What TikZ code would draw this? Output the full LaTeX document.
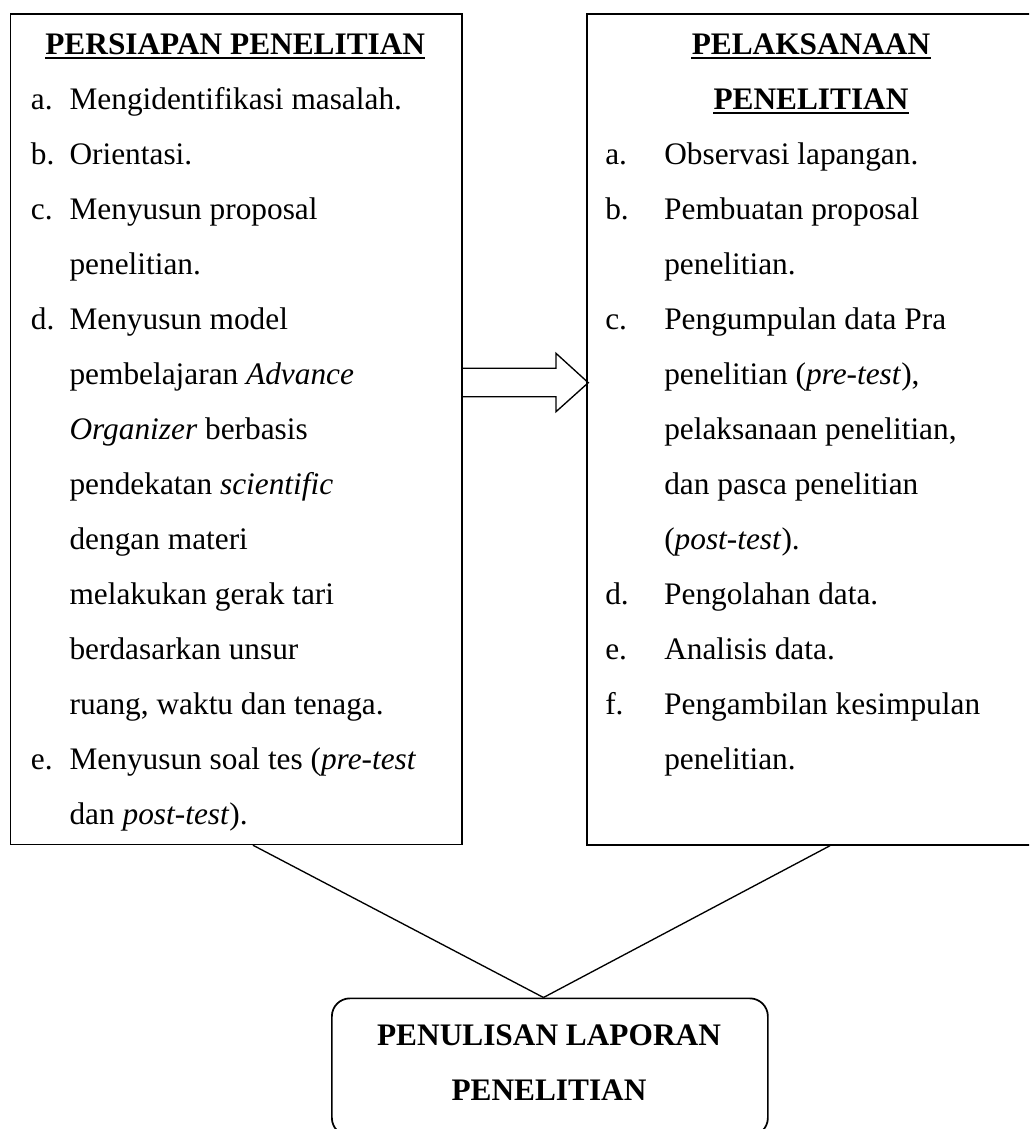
\documentclass[tikz,border=0pt]{standalone}
\usepackage{fontspec}
\setmainfont{Liberation Serif}
\usetikzlibrary{calc}
\newcommand\myfont{\fontsize{23.5}{28}\selectfont}
\newcommand\itemlabL[1]{\makebox[28.95pt][l]{#1}}
\newcommand\itemlabR[1]{\makebox[44.25pt][l]{#1}}
\tikzset{
  boxstyle/.style={draw, line width=1.3pt, inner sep=0pt, anchor=north west},
  ln/.style={anchor=base west, inner sep=0pt, font=\myfont},
  hd/.style={anchor=base, inner sep=0pt, font=\myfont\bfseries},
  conn/.style={line width=1pt},
  ul/.style={line width=1.6pt}
}
\begin{document}
\begin{tikzpicture}[x=0.75pt, y=-0.75pt]
\clip (0,0) rectangle (1029,1129);
\fill[white] (0,0) rectangle (1029,1129);
% boxes
\node[boxstyle, minimum width=338.6pt, minimum height=622.65pt] (L) at (9.5,13.3) {};
\node[boxstyle, minimum width=337.5pt, minimum height=623pt] (R) at (586,13.3) {};
\node[boxstyle, rounded corners=13.5pt, minimum width=327pt, minimum height=103.1pt] (B) at (331,997.5) {};
% left header
\node[hd] (lh) at (235.25,54.5) {PERSIAPAN PENELITIAN};
\draw[ul] ($(lh.base west)+(0,3.8)$) -- ($(lh.base east)+(0,3.8)$);
% left lines
\node[ln] (l1) at (30.7,109.5) {\itemlabL{a.}Mengidentifikasi masalah.};
\node[ln] (l2) at (30.7,164.5) {\itemlabL{b.}Orientasi.};
\node[ln] (l3) at (30.7,219.5) {\itemlabL{c.}Menyusun proposal};
\node[ln] (l4) at (69.3,274.5) {penelitian.};
\node[ln] (l5) at (30.7,329.5) {\itemlabL{d.}Menyusun model};
\node[ln] (l6) at (69.3,384.5) {pembelajaran \textit{Advance}};
\node[ln] (l7) at (69.3,439.5) {\textit{Organizer} berbasis};
\node[ln] (l8) at (69.3,494.5) {pendekatan \textit{scientific}};
\node[ln] (l9) at (69.3,549.5) {dengan materi};
\node[ln] (l10) at (69.3,604.5) {melakukan gerak tari};
\node[ln] (l11) at (69.3,659.5) {berdasarkan unsur};
\node[ln] (l12) at (69.3,714.5) {ruang, waktu dan tenaga.};
\node[ln] (l13) at (30.7,769.5) {\itemlabL{e.}Menyusun soal tes (\textit{pre-test}};
\node[ln] (l14) at (69.3,824.5) {dan \textit{post-test}).};
% right header
\node[hd] (rh1) at (811,54.5) {PELAKSANAAN};
\draw[ul] ($(rh1.base west)+(0,3.8)$) -- ($(rh1.base east)+(0,3.8)$);
\node[hd] (rh2) at (811,109.5) {PENELITIAN};
\draw[ul] ($(rh2.base west)+(0,3.8)$) -- ($(rh2.base east)+(0,3.8)$);
% right lines
\node[ln] (r1) at (605,164.5) {\itemlabR{a.}Observasi lapangan.};
\node[ln] (r2) at (605,219.5) {\itemlabR{b.}Pembuatan proposal};
\node[ln] (r3) at (664,274.5) {penelitian.};
\node[ln] (r4) at (605,329.5) {\itemlabR{c.}Pengumpulan data Pra};
\node[ln] (r5) at (664,384.5) {penelitian (\textit{pre-test}),};
\node[ln] (r6) at (664,439.5) {pelaksanaan penelitian,};
\node[ln] (r7) at (664,494.5) {dan pasca penelitian};
\node[ln] (r8) at (664,549.5) {(\textit{post-test}).};
\node[ln] (r9) at (605,604.5) {\itemlabR{d.}Pengolahan data.};
\node[ln] (r10) at (605,659.5) {\itemlabR{e.}Analisis data.};
\node[ln] (r11) at (605,714.5) {\itemlabR{f.}Pengambilan kesimpulan};
\node[ln] (r12) at (664,769.5) {penelitian.};
% bottom text
\node[hd] (b1) at (549,1045) {PENULISAN LAPORAN};
\node[hd] (b2) at (549,1100) {PENELITIAN};
% block arrow
\draw[conn, line join=miter] ($(L.north east)+(0,355)$) -- (556,368.3) -- (556,353.3) -- (588.3,382.7)
  -- (556,411.7) -- (556,396.7) -- ($(L.north east)+(0,383.4)$);
% connectors
\coordinate (meet) at ($(B.north west)+(212.5,0)$);
\draw[conn] ($(L.south west)+(243.5,0)$) -- (meet);
\draw[conn] ($(R.south west)+(244,0)$) -- (meet);
\end{tikzpicture}
\end{document}
